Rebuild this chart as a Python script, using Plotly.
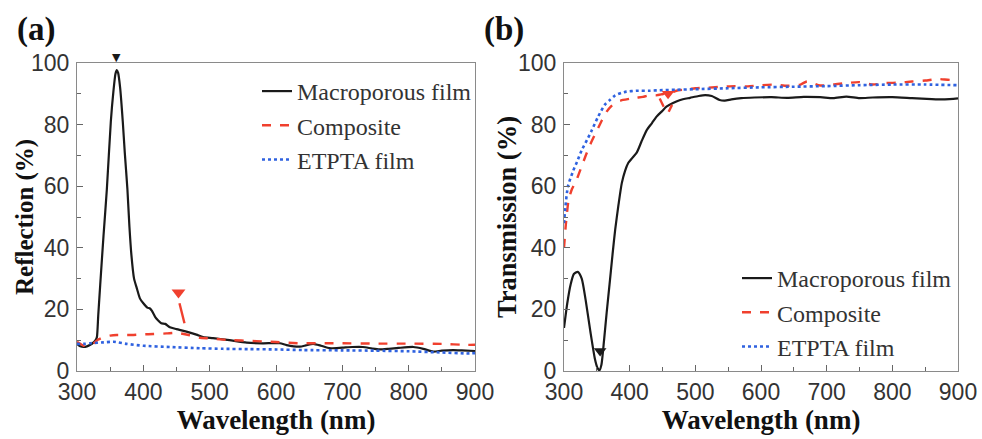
import plotly.graph_objects as go

# ---------------- data: panel (a) reflection ----------------
wl_macro_r = [300, 305, 310, 315, 320, 325, 328, 330, 332, 335, 340, 345, 351, 355, 358, 360, 362, 365,
              369, 372, 376, 379, 382, 386, 390, 395, 400, 406, 410, 413, 418, 422, 427, 433, 440,
              450, 465, 480, 490, 505, 516, 530, 556, 580, 606, 616, 636, 645, 656, 668, 681, 700,
              715, 731, 745, 756, 770, 785, 807, 822, 837, 850, 867, 880, 900]
refl_macro = [8.8, 8.0, 7.8, 8.0, 8.5, 9.3, 10.0, 11.0, 18.0, 28.0, 44.0, 59.0, 81.0, 91.0, 96.5, 97.7,
              96.8, 92.0, 81.0, 71.0, 59.0, 47.0, 37.7, 30.0, 27.0, 23.5, 22.0, 20.6, 20.3, 19.5, 17.5,
              16.5, 15.5, 15.3, 14.2, 13.6, 12.8, 11.8, 11.0, 10.7, 10.4, 10.0, 9.2, 9.0, 9.0, 8.4, 7.9,
              8.3, 8.8, 8.2, 7.4, 7.6, 7.8, 7.8, 7.3, 7.0, 7.2, 7.5, 7.8, 7.2, 6.3, 6.6, 6.8, 6.7, 6.5]

wl_comp_r = [300, 305, 310, 318, 325, 332, 340, 350, 360, 375, 385, 400, 415, 435, 450, 470, 485,
             500, 520, 535, 560, 580, 600, 636, 660, 680, 700, 750, 800, 850, 887, 900]
refl_comp = [9.5, 8.8, 8.2, 8.3, 9.0, 10.2, 11.0, 11.5, 11.7, 11.7, 11.7, 11.9, 12.0, 12.2, 12.4, 11.6,
             10.8, 10.6, 10.2, 10.0, 9.8, 9.6, 9.4, 9.0, 9.0, 9.0, 9.0, 8.9, 8.9, 8.8, 8.5, 8.5]

wl_etpta_r = [300, 310, 320, 340, 355, 375, 400, 440, 485, 520, 560, 600, 640, 700, 750, 800, 850, 887, 900]
refl_etpta = [8.8, 8.8, 9.0, 9.3, 9.5, 8.8, 8.2, 7.8, 7.4, 7.2, 7.1, 7.0, 6.8, 6.7, 6.6, 6.4, 6.0, 5.7, 5.8]

# ---------------- data: panel (b) transmission ----------------
wl_macro_t = [300, 305, 310, 315, 321, 327, 333, 340, 347, 351, 354, 357, 361, 365, 370, 374, 378,
              383, 388, 393, 398, 404, 411, 418, 426, 434, 441, 449, 456, 466, 477, 492, 505, 515,
              525, 537, 545, 555, 570, 590, 616, 640, 665, 690, 710, 730, 750, 770, 800, 830, 860,
              880, 900]
trans_macro = [14, 22, 28, 31.5, 32.2, 30, 23, 13, 4, 1, 0.2, 2, 10, 19, 29.5, 38, 46, 54, 61, 65,
               67.6, 69.2, 71, 74.5, 78.2, 80.5, 82.6, 84.3, 85.8, 87, 88, 88.7, 89.3, 89.6, 89.3,
               88, 87.8, 88.2, 88.6, 88.8, 88.9, 88.7, 89, 88.9, 88.6, 89.1, 88.6, 88.8, 88.9, 88.6,
               88.3, 88.2, 88.5]

wl_comp_t = [300, 303, 307, 312, 319, 327, 335, 342, 350, 358, 365, 372, 380, 390, 400, 410, 420,
             430, 440, 448, 456, 466, 471, 480, 490, 500, 520, 540, 560, 580, 600, 620, 640, 660,
             670, 690, 710, 730, 750, 770, 790, 810, 830, 850, 870, 890, 900]
trans_comp = [40, 48, 55.5, 59, 62, 66.5, 71, 74.5, 78, 81.5, 84.2, 86, 87.3, 88, 88.4, 88.7, 89,
              89.5, 89.5, 89.8, 90.2, 90.6, 91, 91.3, 91.5, 91.8, 92, 92.3, 92.5, 92.4, 92.8, 93,
              92.6, 93, 94, 92.7, 93, 93.5, 93.8, 93, 93.5, 93.6, 94, 94.3, 94.8, 94.5, 95]

wl_etpta_t = [300, 302, 306, 314, 320, 327, 335, 342, 352, 362, 370, 378, 387, 395, 410, 430, 450,
              470, 500, 550, 600, 650, 700, 750, 800, 850, 900]
trans_etpta = [48, 53, 60, 65, 68, 71.7, 75, 78, 82.6, 86.4, 88, 89.5, 90.3, 90.7, 91, 91, 91.2,
               91.3, 91.5, 91.8, 92.1, 92.3, 92.5, 92.8, 93, 93, 92.8]

# ---------------- peak markers (arrows drawn on the original figure) ----------------
mark_a_black = ([360], [100])
mark_a_red = ([453], [25.5])
mark_a_red_tail = ([454.5, 462], [22, 15.5])
mark_b_black = ([355], [6.5])
mark_b_red = ([458.5], [90.0])
mark_b_red_tail1 = ([445.7, 451.8], [88.5, 85.8])
mark_b_red_tail2 = ([459.4, 464.5], [84.2, 86.4])

series_names = ["Macroporous film", "Composite", "ETPTA film"]
x_ticks = [300, 400, 500, 600, 700, 800, 900]
y_ticks = [0, 20, 40, 60, 80, 100]

BLACK = "#1a1a1a"
RED = "#f0402e"
BLUE = "#2f62e0"
SERIF = "Liberation Serif, Times New Roman, serif"
SANS = "Liberation Sans, Arial, sans-serif"

fig = go.Figure()

def add_panel(xs, ys, xa, ya, leg):
    styles = [dict(color=BLACK, width=2.2, dash="solid"),
              dict(color=RED, width=2.4, dash="dash"),
              dict(color=BLUE, width=2.6, dash="dot")]
    for (x, y), name, st in zip(zip(xs, ys), series_names, styles):
        fig.add_trace(go.Scatter(x=x, y=y, mode="lines", name=name, line=dict(shape="spline", smoothing=0.6, **st),
                                 xaxis=xa, yaxis=ya, legend=leg, cliponaxis=True))

add_panel([wl_macro_r, wl_comp_r, wl_etpta_r], [refl_macro, refl_comp, refl_etpta], "x", "y", "legend")
add_panel([wl_macro_t, wl_comp_t, wl_etpta_t], [trans_macro, trans_comp, trans_etpta], "x2", "y2", "legend2")

def add_marker(pt, color, xa, ya, size=11):
    fig.add_trace(go.Scatter(x=pt[0], y=pt[1], mode="markers", showlegend=False, hoverinfo="skip",
                             marker=dict(symbol="triangle-down", size=size, color=color),
                             xaxis=xa, yaxis=ya, cliponaxis=False))

def add_tail(seg, xa, ya):
    fig.add_trace(go.Scatter(x=seg[0], y=seg[1], mode="lines", showlegend=False, hoverinfo="skip",
                             line=dict(color=RED, width=2.4), xaxis=xa, yaxis=ya))

add_marker(mark_a_red, RED, "x", "y", 12)
add_tail(mark_a_red_tail, "x", "y")
add_marker(mark_b_black, BLACK, "x2", "y2", 11)
add_marker(mark_b_red, RED, "x2", "y2", 11)
add_tail(mark_b_red_tail1, "x2", "y2")
add_tail(mark_b_red_tail2, "x2", "y2")

W, H = 982, 439
ydom = [1 - 371 / H, 1 - 63 / H]
ymid = (ydom[0] + ydom[1]) / 2

axis_common = dict(showline=True, linecolor="#8a8a8a", linewidth=1.2, mirror=True, showgrid=False,
                   zeroline=False, ticks="inside", ticklen=6, tickcolor="#666", tickwidth=1,
                   tickfont=dict(family=SANS, size=23, color="#333"), automargin=False)

xax = dict(axis_common, range=[300, 900], tickvals=x_ticks,
           minor=dict(ticks="inside", ticklen=4, tickcolor="#666", dtick=50, tick0=300),
           title=dict(text="<b>Wavelength (nm)</b>", font=dict(family=SERIF, size=27, color="#111"), standoff=4))
yax = dict(axis_common, range=[0, 100], tickvals=y_ticks,
           minor=dict(ticks="inside", ticklen=4, tickcolor="#666", dtick=10, tick0=0),
           ticklabelstandoff=2)

fig.update_layout(
    width=W, height=H, margin=dict(l=0, r=0, t=0, b=0),
    paper_bgcolor="white", plot_bgcolor="white",
    xaxis=dict(xax, domain=[77 / W, 475 / W], anchor="y"),
    xaxis2=dict(xax, domain=[564 / W, 958 / W], anchor="y2"),
    yaxis=dict(yax, domain=ydom, anchor="x"),
    yaxis2=dict(yax, domain=ydom, anchor="x2"),
    legend=dict(x=257 / W, y=1 - 69 / H, xanchor="left", yanchor="top", bgcolor="rgba(0,0,0,0)",
                font=dict(family=SERIF, size=24, color="#333"), tracegroupgap=0),
    legend2=dict(x=737 / W, y=1 - 256 / H, xanchor="left", yanchor="top", bgcolor="rgba(0,0,0,0)",
                 font=dict(family=SERIF, size=24, color="#333"), tracegroupgap=0),
    annotations=[
        dict(text="<b>Reflection (%)</b>", x=25 / W, y=ymid, xref="paper", yref="paper", textangle=-90,
             xanchor="center", yanchor="middle", showarrow=False,
             font=dict(family=SERIF, size=25, color="#111")),
        dict(text="<b>Transmission (%)</b>", x=507 / W, y=ymid, xref="paper", yref="paper", textangle=-90,
             xanchor="center", yanchor="middle", showarrow=False,
             font=dict(family=SERIF, size=26.5, color="#111")),
        dict(text="<b>(a)</b>", x=15 / W, y=1 - 29 / H, xref="paper", yref="paper", xanchor="left",
             yanchor="middle", showarrow=False, font=dict(family=SERIF, size=33, color="#111")),
        dict(text="<b>(b)</b>", x=482 / W, y=1 - 29 / H, xref="paper", yref="paper", xanchor="left",
             yanchor="middle", showarrow=False, font=dict(family=SERIF, size=33, color="#111")),
        dict(text="▼", x=mark_a_black[0][0], y=mark_a_black[1][0], xref="x", yref="y",
             xanchor="center", yanchor="bottom", showarrow=False, yshift=-3,
             font=dict(family="DejaVu Sans", size=11, color=BLACK)),
    ],
)

fig.write_html("out.html", config={"displayModeBar": False},
               post_script="document.body.style.margin='0px';document.body.style.overflow='hidden';")
